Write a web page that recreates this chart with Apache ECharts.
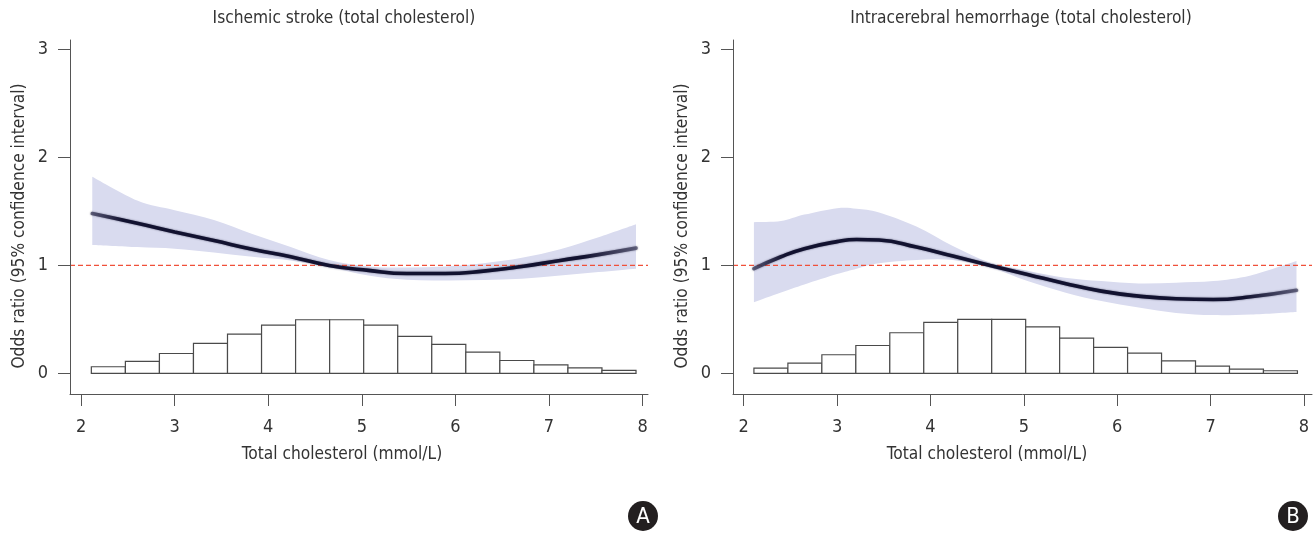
<!DOCTYPE html>
<html>
<head>
<meta charset="utf-8">
<style>
  html, body { margin: 0; padding: 0; background: #ffffff; }
  #chart { width: 1314px; height: 537px; }
</style>
<script src="https://cdn.jsdelivr.net/npm/echarts@6/dist/echarts.min.js"></script>
</head>
<body>
<div id="chart"></div>
<script>
// ---- Panel A: ischemic stroke vs. total cholesterol ----
const isXs    = [2.12, 2.6, 3.0, 3.42, 3.83, 4.24, 4.65, 5.07, 5.48, 5.89, 6.3, 6.71, 7.12, 7.53, 7.93];
const isOR    = [1.48, 1.39, 1.31, 1.23, 1.15, 1.08, 1.0, 0.954, 0.925, 0.925, 0.947, 0.99, 1.046, 1.10, 1.16];
const isUpper = [1.82, 1.60, 1.51, 1.42, 1.29, 1.17, 1.05, 0.99, 0.98, 0.99, 1.02, 1.07, 1.15, 1.26, 1.38];
const isLower = [1.19, 1.17, 1.155, 1.12, 1.08, 1.046, 0.984, 0.907, 0.867, 0.861, 0.865, 0.877, 0.907, 0.938, 0.969];
const isHist  = [0.062, 0.111, 0.185, 0.278, 0.364, 0.448, 0.497, 0.497, 0.448, 0.343, 0.269, 0.198, 0.120, 0.080, 0.052, 0.028];

// ---- Panel B: intracerebral hemorrhage vs. total cholesterol ----
const ichXs    = [2.11, 2.4, 2.65, 3.0, 3.21, 3.45, 3.85, 4.24, 4.64, 5.04, 5.44, 5.83, 6.23, 6.63, 7.03, 7.43, 7.92];
const ichOR    = [0.97, 1.08, 1.155, 1.22, 1.24, 1.235, 1.17, 1.086, 1.0, 0.917, 0.833, 0.762, 0.716, 0.691, 0.685, 0.71, 0.77];
const ichUpper = [1.40, 1.41, 1.47, 1.53, 1.525, 1.49, 1.36, 1.18, 1.025, 0.95, 0.886, 0.855, 0.833, 0.84, 0.855, 0.907, 1.04];
const ichLower = [0.66, 0.75, 0.824, 0.92, 0.97, 1.02, 1.05, 1.05, 0.98, 0.855, 0.75, 0.67, 0.61, 0.56, 0.54, 0.546, 0.57];
const ichHist  = [0.049, 0.096, 0.173, 0.259, 0.377, 0.472, 0.50, 0.50, 0.432, 0.327, 0.241, 0.188, 0.117, 0.068, 0.040, 0.025];

// Histogram bins (mmol/L), equal width across the observed range
const histRange = [2.11, 7.93];

// Axes
const xTicks = [2, 3, 4, 5, 6, 7, 8];
const yTicks = [0, 1, 2, 3];
const xRangeA = [1.882, 8.058];
const xRangeB = [1.886, 8.086];
const yRange = [-0.19, 3.086];
const refOR = 1;

const panelTitles = ['Ischemic stroke (total cholesterol)', 'Intracerebral hemorrhage (total cholesterol)'];
const xTitle = 'Total cholesterol (mmol/L)';
const yTitle = 'Odds ratio (95% confidence interval)';
const panelTags = ['A', 'B'];

const FONT = '"Liberation Sans Narrow", "DejaVu Sans Condensed", "Noto Sans", sans-serif';
const AXIS_COLOR = '#555555';
const TEXT_COLOR = '#333333';
const BAND_COLOR = '#d9dbef';

function pairs(xs, ys) { return xs.map((x, i) => [x, ys[i]]); }

function histData(heights) {
  const w = (histRange[1] - histRange[0]) / heights.length;
  return heights.map((h, i) => [histRange[0] + i * w, histRange[0] + (i + 1) * w, h]);
}

// Catmull-Rom spline through pixel points, appended to an SVG-style path
function splinePath(pts, move) {
  let d = (move ? 'M' : 'L') + pts[0][0] + ' ' + pts[0][1];
  for (let i = 0; i < pts.length - 1; i++) {
    const p0 = pts[Math.max(i - 1, 0)], p1 = pts[i], p2 = pts[i + 1], p3 = pts[Math.min(i + 2, pts.length - 1)];
    const c1 = [p1[0] + (p2[0] - p0[0]) / 6, p1[1] + (p2[1] - p0[1]) / 6];
    const c2 = [p2[0] - (p3[0] - p1[0]) / 6, p2[1] - (p3[1] - p1[1]) / 6];
    d += 'C' + c1[0] + ' ' + c1[1] + ' ' + c2[0] + ' ' + c2[1] + ' ' + p2[0] + ' ' + p2[1];
  }
  return d;
}

function makeXAxis(gridIndex, range) {
  return {
    type: 'value', gridIndex, min: range[0], max: range[1], z: 10,
    axisLine: { show: true, onZero: false, lineStyle: { color: AXIS_COLOR, width: 1 } },
    axisTick: { show: true, length: 12, customValues: xTicks, lineStyle: { color: AXIS_COLOR, width: 1 } },
    axisLabel: { customValues: xTicks, margin: 24, fontSize: 18, color: TEXT_COLOR, fontFamily: FONT },
    splitLine: { show: false }
  };
}
function makeYAxis(gridIndex) {
  return {
    type: 'value', gridIndex, min: yRange[0], max: yRange[1], z: 10,
    axisLine: { show: true, onZero: false, lineStyle: { color: AXIS_COLOR, width: 1 } },
    axisTick: { show: true, length: 12, customValues: yTicks, lineStyle: { color: AXIS_COLOR, width: 1 } },
    axisLabel: { customValues: yTicks, margin: 22, fontSize: 18, color: TEXT_COLOR, fontFamily: FONT },
    splitLine: { show: false }
  };
}

const curveGradient = {
  type: 'linear', x: 0, y: 0, x2: 1, y2: 0,
  colorStops: [
    { offset: 0, color: 'rgba(70,70,100,0.75)' },
    { offset: 0.06, color: '#121230' },
    { offset: 0.9, color: '#121230' },
    { offset: 1, color: 'rgba(70,70,100,0.7)' }
  ]
};

function panelSeries(idx, xs, or, up, lo, hist, xRange) {
  return [
    // 95% confidence band, one closed shape between the lower and upper bounds
    {
      type: 'custom', xAxisIndex: idx, yAxisIndex: idx, silent: true, z: 1,
      data: xs.map((x, i) => [x, lo[i], up[i]]),
      encode: { x: 0, y: [1, 2] },
      renderItem(params, api) {
        if (params.dataIndexInside !== 0) return null;
        const n = params.dataInsideLength;
        const upper = [], lower = [];
        for (let i = 0; i < n; i++) {
          upper.push(api.coord([api.value(0, i), api.value(2, i)]));
          lower.push(api.coord([api.value(0, i), api.value(1, i)]));
        }
        const d = splinePath(upper, true) + splinePath(lower.reverse(), false) + 'Z';
        return { type: 'path', shape: { pathData: d }, style: { fill: BAND_COLOR, stroke: null } };
      }
    },
    {
      type: 'custom', xAxisIndex: idx, yAxisIndex: idx, silent: true, z: 2,
      data: histData(hist),
      encode: { x: [0, 1], y: 2 },
      renderItem(params, api) {
        const p0 = api.coord([api.value(0), 0]);
        const p1 = api.coord([api.value(1), api.value(2)]);
        return {
          type: 'rect',
          shape: { x: p0[0], y: p1[1], width: p1[0] - p0[0], height: p0[1] - p1[1] },
          style: { fill: '#ffffff', stroke: '#4a4a4a', lineWidth: 1.2 }
        };
      }
    },
    // reference line at OR = 1
    {
      type: 'line', xAxisIndex: idx, yAxisIndex: idx, silent: true, z: 3,
      data: [[xRange[0], refOR], [xRange[1], refOR]], symbol: 'none',
      lineStyle: { color: '#f0503a', type: [5, 3], width: 1.3 }
    },
    {
      type: 'line', xAxisIndex: idx, yAxisIndex: idx,
      data: pairs(xs, or), smooth: true, symbol: 'none', silent: true, z: 4,
      lineStyle: { color: curveGradient, width: 3.6, shadowBlur: 2, shadowColor: 'rgba(18,18,48,0.6)', cap: 'round' }
    }
  ];
}

const textStyle = (extra) => Object.assign({ fontFamily: FONT, fontSize: 17.2, fill: TEXT_COLOR }, extra);

const chart = echarts.init(document.getElementById('chart'), null, { renderer: 'canvas' });
chart.setOption({
  animation: false,
  backgroundColor: '#ffffff',
  grid: [
    { left: 70, right: 666, top: 40, bottom: 143 },
    { left: 733, right: 2, top: 40, bottom: 143 }
  ],
  xAxis: [makeXAxis(0, xRangeA), makeXAxis(1, xRangeB)],
  yAxis: [makeYAxis(0), makeYAxis(1)],
  series: [
    ...panelSeries(0, isXs, isOR, isUpper, isLower, isHist, xRangeA),
    ...panelSeries(1, ichXs, ichOR, ichUpper, ichLower, ichHist, xRangeB)
  ],
  graphic: [
    { type: 'text', x: 344, y: 19, style: textStyle({ text: panelTitles[0], align: 'center', verticalAlign: 'middle' }) },
    { type: 'text', x: 1021, y: 19, style: textStyle({ text: panelTitles[1], align: 'center', verticalAlign: 'middle' }) },
    { type: 'text', x: 342, y: 455, style: textStyle({ text: xTitle, align: 'center', verticalAlign: 'middle' }) },
    { type: 'text', x: 987, y: 455, style: textStyle({ text: xTitle, align: 'center', verticalAlign: 'middle' }) },
    { type: 'text', x: 20, y: 226, rotation: Math.PI / 2, style: textStyle({ text: yTitle, align: 'center', verticalAlign: 'middle' }) },
    { type: 'text', x: 683, y: 226, rotation: Math.PI / 2, style: textStyle({ text: yTitle, align: 'center', verticalAlign: 'middle' }) },
    { type: 'circle', shape: { cx: 643, cy: 516, r: 15 }, style: { fill: '#231f20' } },
    { type: 'text', x: 643, y: 517, style: { text: panelTags[0], fontFamily: FONT, fontSize: 22, fill: '#ffffff', align: 'center', verticalAlign: 'middle' } },
    { type: 'circle', shape: { cx: 1293, cy: 516, r: 15 }, style: { fill: '#231f20' } },
    { type: 'text', x: 1293, y: 517, style: { text: panelTags[1], fontFamily: FONT, fontSize: 22, fill: '#ffffff', align: 'center', verticalAlign: 'middle' } }
  ]
});
</script>
</body>
</html>
